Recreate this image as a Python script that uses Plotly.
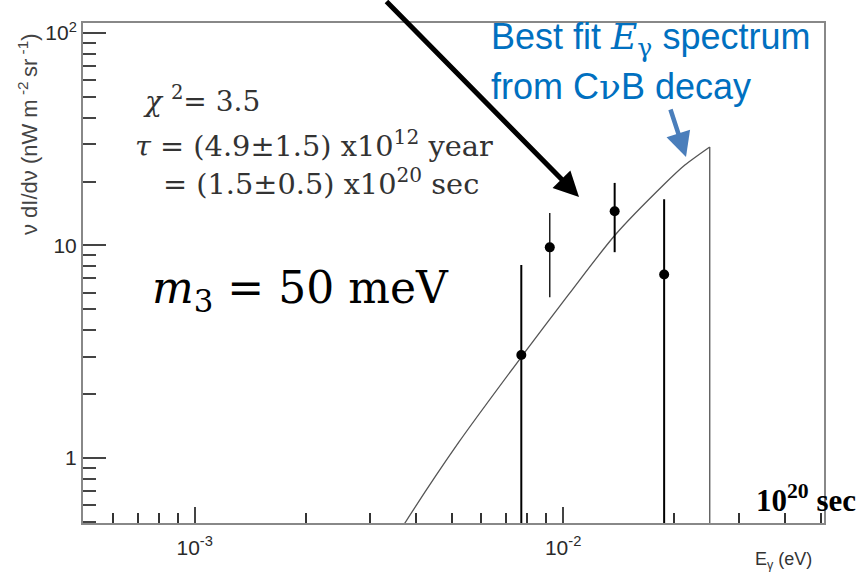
import plotly.graph_objects as go

# ---------------- data ----------------
# measured points (E_gamma in eV, nu dI/dnu in nW m^-2 sr^-1)
point_E = [7.7e-3, 9.2e-3, 1.38e-2, 1.88e-2]
point_F = [3.05, 9.8, 14.5, 7.3]
point_F_hi = [8.1, 14.2, 19.7, 16.5]
point_F_lo = [0.3, 5.7, 9.3, 0.3]   # 0.3 -> bar runs below the axis

# best-fit spectrum (rising part), then the cut-off edge
curve_E = [3.6e-3, 3.72e-3, 5.2e-3, 7.74e-3, 1.033e-2, 1.384e-2,
           1.875e-2, 2.14e-2, 2.5e-2]
curve_F = [0.45, 0.494, 1.18, 3.02, 5.85, 11.2, 19.3, 23.9, 29.1]
edge_F_bottom = 0.3

x_tickvals = [1e-3, 1e-2]
x_ticktext = ["10<sup>-3</sup>", "10<sup>-2</sup>"]
y_tickvals = [1, 10, 100]
y_ticktext = ["1", "10", "10<sup>2</sup>"]
x_minor = [d * 10.0 ** e for e in (-4, -3, -2) for d in range(2, 10)]
y_minor = [d * 10.0 ** e for e in (-1, 0, 1) for d in range(2, 10)]

# ---------------- geometry ----------------
W, H = 866, 577
L, R, T, B = 83, 824, 23, 523


def px(x):
    return (x - L) / (R - L)


def py(y):
    return (B - y) / (B - T)


bar_widths = [2.0, 1.3, 2.0, 2.0]

fig = go.Figure()
fig.add_trace(go.Scatter(x=curve_E, y=curve_F, mode="lines",
                         line=dict(color="#555555", width=1.3, shape="spline", smoothing=0.8),
                         showlegend=False, hoverinfo="skip"))
fig.add_trace(go.Scatter(x=[curve_E[-1], curve_E[-1]], y=[curve_F[-1], edge_F_bottom],
                         mode="lines", line=dict(color="#555555", width=1.3),
                         showlegend=False, hoverinfo="skip"))
for i in range(len(point_E)):
    fig.add_trace(go.Scatter(
        x=[point_E[i]], y=[point_F[i]], mode="markers",
        marker=dict(color="black", size=10),
        error_y=dict(type="data", symmetric=False,
                     array=[point_F_hi[i] - point_F[i]],
                     arrayminus=[point_F[i] - point_F_lo[i]],
                     color="black", thickness=bar_widths[i], width=0),
        showlegend=False))

tickfont = dict(family="Liberation Sans Narrow, Arial Narrow, Liberation Sans, sans-serif",
                size=21, color="#2a2a2a")

fig.update_xaxes(type="log", range=[-3.303, -1.292],
                 tickmode="array", tickvals=x_tickvals, ticktext=x_ticktext,
                 ticks="inside", ticklen=16, tickwidth=1.5, tickcolor="#444444",
                 ticklabelstandoff=5,
                 minor=dict(tickmode="array", tickvals=x_minor, ticks="inside",
                            ticklen=10, tickwidth=2, tickcolor="#333333", showgrid=False),
                 showline=True, linecolor="#888888", linewidth=2, mirror=True,
                 showgrid=False, zeroline=False, tickfont=tickfont)
fig.update_yaxes(type="log", range=[-0.306, 2.047],
                 tickmode="array", tickvals=y_tickvals, ticktext=y_ticktext,
                 ticks="inside", ticklen=23, tickwidth=2.2, tickcolor="#444444",
                 minor=dict(tickmode="array", tickvals=y_minor, ticks="inside",
                            ticklen=13, tickwidth=2, tickcolor="#444444", showgrid=False),
                 showline=True, linecolor="#888888", linewidth=2, mirror=True,
                 showgrid=False, zeroline=False, tickfont=tickfont)

serif = "DejaVu Serif, Liberation Serif, serif"
txt = "#333333"
blue = "#0070C0"
ann = []


def text(x, y, s, size, family, color, xanchor="left", angle=0):
    ann.append(dict(x=px(x), y=py(y), xref="paper", yref="paper", text=s,
                    showarrow=False, xanchor=xanchor, yanchor="middle",
                    textangle=angle,
                    font=dict(size=size, family=family, color=color)))


text(141, 99, "<i>χ</i> <sup>2</sup>= 3.5", 28, serif, txt)
text(133, 144, "<i>τ</i> = (4.9±1.5) x10<sup>12</sup> year", 28.8, serif, txt)
text(161, 182, "= (1.5±0.5) x10<sup>20</sup> sec", 28.8, serif, txt)
text(150, 290, "<i>m</i><sub>3</sub> = 50 meV", 44, "DejaVu Serif, serif", "black")
text(489, 39, "Best fit <span style=\"font-family:'DejaVu Serif'\"><i>E</i><sub>γ</sub></span> spectrum",
     36, "Liberation Sans, Arial, sans-serif", blue)
text(489, 86, "from C<span style=\"font-family:'DejaVu Serif'\">ν</span>B decay",
     36, "Liberation Sans, Arial, sans-serif", blue)
text(754, 498, "<b>10<sup>20</sup> sec</b>", 31, "Liberation Serif, serif", "black")
text(783, 560, "E<sub>γ</sub> (eV)", 18,
     "Liberation Sans Narrow, Arial Narrow, Liberation Sans, sans-serif", "#333333",
     xanchor="center")
text(28, 134, "ν dI/dν (nW m<sup> -2 </sup>sr<sup> -1</sup>)", 22,
     "Liberation Sans Narrow, Arial Narrow, Liberation Sans, sans-serif", "#444444",
     xanchor="center", angle=-90)

# black arrow
ann.append(dict(x=px(579), y=py(197), xref="paper", yref="paper", text="",
                showarrow=True, ax=385 - 579, ay=-5 - 197, axref="pixel", ayref="pixel",
                arrowhead=2, arrowsize=1.0, arrowwidth=5, arrowcolor="black"))
# blue arrow
ann.append(dict(x=px(686), y=py(157), xref="paper", yref="paper", text="",
                showarrow=True, ax=670 - 686, ay=108 - 157, axref="pixel", ayref="pixel",
                arrowhead=2, arrowsize=1.1, arrowwidth=4.5, arrowcolor="#4A7EBB"))

fig.update_layout(width=W, height=H, margin=dict(l=L, r=W - R, t=T, b=H - B),
                  plot_bgcolor="white", paper_bgcolor="white",
                  annotations=ann, showlegend=False)

fig.write_html("out.html")
